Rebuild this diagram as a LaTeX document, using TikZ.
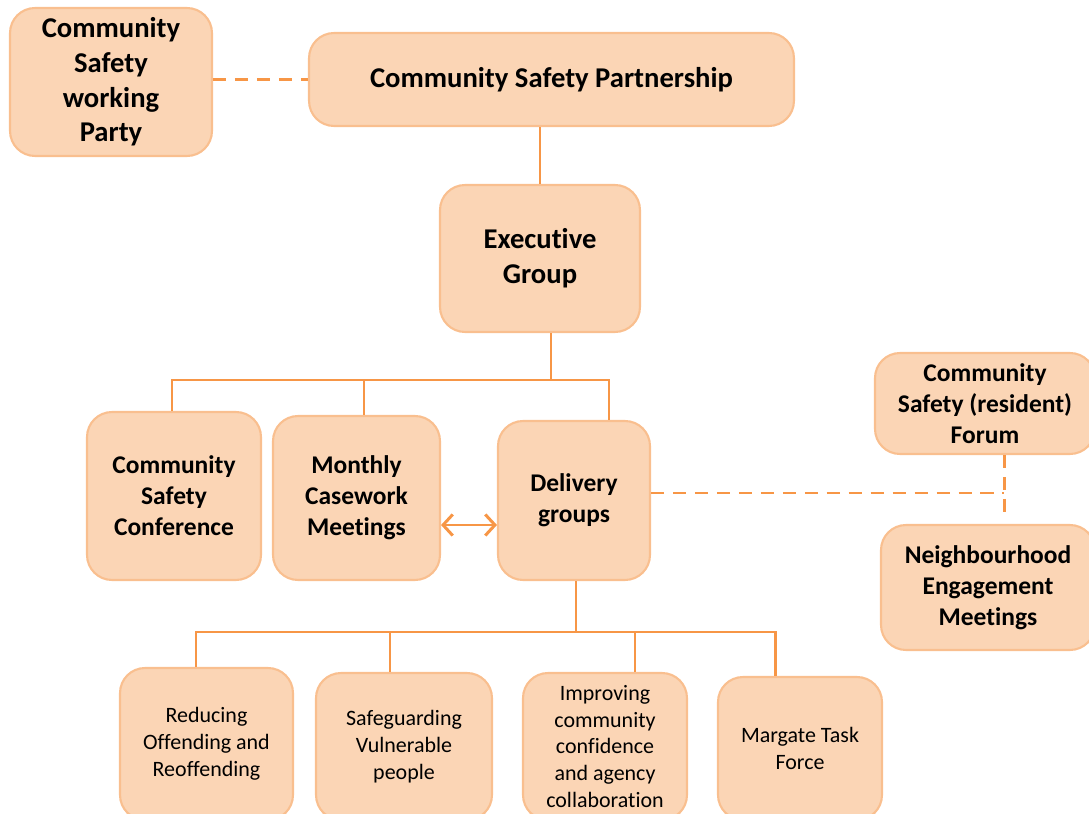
\documentclass[tikz,border=0pt]{standalone}
\usepackage{fontspec}
\setmainfont{Carlito}[RawFeature={-liga;-clig;-calt;-dlig}]
\usetikzlibrary{arrows.meta}
\definecolor{boxfill}{HTML}{FBD5B5}
\definecolor{boxline}{HTML}{F9BF8F}
\definecolor{linkcol}{HTML}{F79646}
\tikzset{
  box/.style={draw=boxline, fill=boxfill, line width=1.2pt, rounded corners=0.5cm,
    align=center, inner sep=0pt, text=black},
  big/.style={font=\fontsize{16.3}{19.8}\selectfont\bfseries},
  mid/.style={font=\fontsize{14.5}{17.6}\selectfont\bfseries},
  small/.style={font=\fontsize{12.5}{15.3}\selectfont},
  link/.style={draw=linkcol, line width=1.7pt},
  dlink/.style={draw=linkcol, line width=1.7pt, dash pattern=on 7.5pt off 5pt},
  arr/.style={draw=linkcol, line width=1.7pt, {Straight Barb[length=5.5pt,width=12pt]}-{Straight Barb[length=5.5pt,width=12pt]}}
}
\begin{document}
\begin{tikzpicture}[x=0.02cm,y=-0.02cm]
\path[use as bounding box] (0,0) rectangle (1089,814);
\clip (0,0) rectangle (1089,814);
% nodes
\node[box,big,minimum width=4.04cm,minimum height=2.96cm] (cswp) at (111,82) {Community\\Safety\\working\\Party};
\node[box,big,minimum width=9.7cm,minimum height=1.86cm] (csp) at (551.5,79.5) {Community Safety Partnership};
\node[box,big,minimum width=4.0cm,minimum height=2.94cm] (exec) at (540,258.5) {Executive\\Group};
\node[box,mid,minimum width=3.48cm,minimum height=3.36cm] (csc) at (174,496) {Community\\Safety\\Conference};
\node[box,mid,minimum width=3.34cm,minimum height=3.28cm] (mcm) at (356.5,498) {Monthly\\Casework\\Meetings};
\node[box,mid,minimum width=3.04cm,minimum height=3.18cm] (deliv) at (574,500.5) {Delivery\\groups};
\node[box,mid,minimum width=4.4cm,minimum height=2.02cm] (forum) at (985,403.5) {Community\\Safety (resident)\\Forum};
\node[box,mid,minimum width=4.28cm,minimum height=2.5cm] (nem) at (988,587.5) {Neighbourhood\\Engagement\\Meetings};
\node[box,small,minimum width=3.46cm,minimum height=3.04cm] (red) at (206.5,744) {Reducing\\Offending and\\Reoffending};
\node[box,small,minimum width=3.52cm,minimum height=2.94cm] (saf) at (404,746.5) {Safeguarding\\Vulnerable\\people};
\node[box,small,minimum width=3.28cm,minimum height=2.94cm] (imp) at (605,746.5) {Improving\\community\\confidence\\and agency\\collaboration};
\node[box,small,minimum width=3.28cm,minimum height=2.86cm] (mar) at (800,748.5) {Margate Task\\Force};
% branch coordinates
\coordinate (t0) at (551,380);
\coordinate (t1) at (172,380);
\coordinate (t2) at (364,380);
\coordinate (t3) at (609,380);
\coordinate (b0) at (576,632);
\coordinate (b1) at (196,632);
\coordinate (b2) at (390,632);
\coordinate (b3) at (635,632);
\coordinate (b4) at (775,632);
\coordinate (ay) at (0,525);
\coordinate (r) at (1004,493);
% connectors
\draw[dlink] (csp.west -| cswp.east) -- (csp.west);
\draw[link] (exec.north) -- (exec.north |- csp.south);
\draw[link] (exec.south -| t0) -- (t0);
\draw[link] (t1 |- csc.north) -- (t1) -- (t3) -- (t3 |- deliv.north);
\draw[link] (t2) -- (t2 |- mcm.north);
\draw[arr] (mcm.east |- ay) -- (deliv.west |- ay);
\draw[link] (deliv.south -| b0) -- (b0);
\draw[link] (b1 |- red.north) -- (b1) -- (b4) -- (b4 |- mar.north);
\draw[link] (b2) -- (b2 |- saf.north);
\draw[link] (b3) -- (b3 |- imp.north);
\draw[dlink] (deliv.east |- r) -- (r);
\draw[dlink] (forum.south -| r) -- ([yshift=0.1cm]nem.north -| r);
\end{tikzpicture}
\end{document}
